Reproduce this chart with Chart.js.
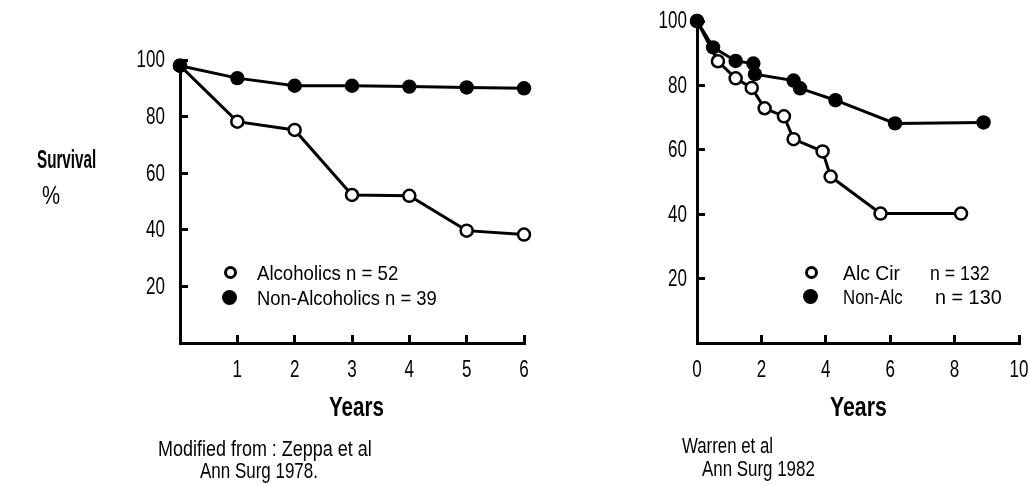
<!DOCTYPE html>
<html>
<head>
<meta charset="utf-8">
<script src="https://cdn.jsdelivr.net/npm/chart.js@4.4.1/dist/chart.umd.min.js"></script>
<style>
    html, body { margin: 0; padding: 0; background: #fff; }
    body { width: 1028px; height: 485px; position: relative; overflow: hidden;
        font-family: 'Liberation Sans', Arial, sans-serif; color: #000; }
    .box { position: absolute; top: 0; }
    .txt { position: absolute; line-height: 1; white-space: nowrap; transform-origin: 0 0; }
    .dot { position: absolute; box-sizing: border-box; border-radius: 50%; }
</style>
</head>
<body>
<div class="box" style="left:0;width:560px;height:485px"><canvas id="left" width="560" height="485"></canvas></div>
<div class="box" style="left:560px;width:468px;height:485px"><canvas id="right" width="468" height="485"></canvas></div>

<script>
// Zeppa et al 1978 - survival % by year
var leftYears = [0, 1, 2, 3, 4, 5, 6];
var leftAlcoholics = [98, 78.2, 75.3, 52.3, 52, 39.7, 38.3];
var leftNonAlcoholics = [98, 93.6, 90.9, 90.9, 90.6, 90.3, 90];
var leftNames = ['Alcoholics', 'Non-Alcoholics'];
var leftCounts = ['n = 52', 'n = 39'];

// Warren et al 1982
var rightAlcYears = [0, 0.65, 1.2, 1.7, 2.1, 2.7, 3.0, 3.9, 4.15, 5.7, 8.2];
var rightAlcValues = [100, 87.5, 82.2, 79.2, 72.9, 70.4, 63.3, 59.5, 51.7, 40.2, 40.2];
var rightNonAlcYears = [0, 0.5, 1.2, 1.75, 1.8, 3.0, 3.2, 4.3, 6.15, 8.9];
var rightNonAlcValues = [100, 91.8, 87.6, 86.8, 83.5, 81.5, 79.1, 75.4, 68.2, 68.5];
var rightNames = ['Alc Cir', 'Non-Alc'];
var rightCounts = ['n = 132', 'n = 130'];

var yTicks = [20, 40, 60, 80, 100];
var leftXTicks = [1, 2, 3, 4, 5, 6];
var rightXTicks = [0, 2, 4, 6, 8, 10];

var fontFamily = "'Liberation Sans', Arial, sans-serif";
Chart.defaults.font.family = fontFamily;
Chart.defaults.color = '#000';

function toPoints(xs, ys) {
    return xs.map(function(x, i) { return { x: x, y: ys[i] }; });
}

function openSeries(label, data) {
    return {
        label: label, data: data, order: 2, clip: false,
        borderColor: '#000', borderWidth: 3,
        pointRadius: 6, pointBorderWidth: 2.5,
        pointBackgroundColor: '#fff', pointBorderColor: '#000'
    };
}

function filledSeries(label, data) {
    return {
        label: label, data: data, order: 1, clip: false,
        borderColor: '#000', borderWidth: 3,
        pointRadius: 7.2, pointBorderWidth: 0,
        pointBackgroundColor: '#000', pointBorderColor: '#000'
    };
}

// narrow tick labels, like the condensed type of the original
var condensedTicks = {
    id: 'condensedTicks',
    afterDraw: function(chart) {
        var ctx = chart.ctx;
        ['x', 'y'].forEach(function(id) {
            var scale = chart.scales[id];
            var shown = scale.options.shownTicks;
            scale.ticks.forEach(function(t) {
                if (shown.indexOf(t.value) < 0) { return; }
                var px = scale.getPixelForValue(t.value);
                ctx.save();
                ctx.fillStyle = '#000';
                ctx.font = '23px ' + fontFamily;
                ctx.textBaseline = 'middle';
                if (scale.isHorizontal()) {
                    ctx.textAlign = 'center';
                    ctx.translate(px, scale.top + 28);
                } else {
                    ctx.textAlign = 'right';
                    ctx.translate(scale.right - scale.options.labelGap, px + 1);
                }
                ctx.scale(0.74, 1);
                ctx.fillText(String(t.value), 0, 0);
                ctx.restore();
            });
        });
    }
};

function axis(min, max, shown, axisSize, labelGap) {
    return {
        type: 'linear', min: min, max: max,
        shownTicks: shown, labelGap: labelGap,
        afterBuildTicks: function(scale) {
            scale.ticks = [min].concat(shown).filter(function(v, i, a) { return a.indexOf(v) === i; })
                .map(function(v) { return { value: v }; });
        },
        afterFit: function(scale) {
            if (scale.isHorizontal()) { scale.height = axisSize; } else { scale.width = axisSize; }
            scale.paddingLeft = 0; scale.paddingRight = 0;
            scale.paddingTop = 0; scale.paddingBottom = 0;
        },
        border: { display: true, color: '#000', width: 3 },
        grid: { drawOnChartArea: false, drawTicks: true, tickLength: -8, color: '#000', lineWidth: 3 },
        ticks: { display: false }
    };
}

function makeChart(id, datasets, xMin, xMax, xShown, yAxisWidth, yLabelGap, xAxisHeight, padding) {
    return new Chart(document.getElementById(id), {
        type: 'line',
        data: { datasets: datasets },
        plugins: [condensedTicks],
        options: {
            responsive: false, animation: false, devicePixelRatio: 1,
            layout: { padding: padding },
            plugins: { legend: { display: false }, tooltip: { enabled: false } },
            scales: {
                x: axis(xMin, xMax, xShown, xAxisHeight, 0),
                y: axis(0, 100, yTicks, yAxisWidth, yLabelGap)
            }
        }
    });
}

makeChart('left', [
    openSeries(leftNames[0], toPoints(leftYears, leftAlcoholics)),
    filledSeries(leftNames[1], toPoints(leftYears, leftNonAlcoholics))
], 0, 6, leftXTicks, 180, 15, 142, { top: 60, right: 36, left: 0, bottom: 0 });

makeChart('right', [
    openSeries(rightNames[0], toPoints(rightAlcYears, rightAlcValues)),
    filledSeries(rightNames[1], toPoints(rightNonAlcYears, rightNonAlcValues))
], 0, 10, rightXTicks, 137, 10, 142, { top: 21, right: 9, left: 0, bottom: 0 });

// text placed by cap-centre, squeezed to the width it has in the original
function place(text, left, centerY, width, size, bold) {
    var d = document.createElement('div');
    d.className = 'txt';
    d.textContent = text;
    d.style.fontSize = size + 'px';
    if (bold) { d.style.fontWeight = 'bold'; }
    document.body.appendChild(d);
    d.style.left = left + 'px';
    d.style.top = (centerY - 0.49 * size) + 'px';
    d.style.transform = 'scaleX(' + (width / d.offsetWidth) + ')';
}

function dot(cx, cy, open) {
    var d = document.createElement('span');
    d.className = 'dot';
    if (open) {
        d.style.cssText = 'left:' + (cx - 6.5) + 'px;top:' + (cy - 6.5) + 'px;width:13px;height:13px;border:3px solid #000;background:#fff';
    } else {
        d.style.cssText = 'left:' + (cx - 7.5) + 'px;top:' + (cy - 7.5) + 'px;width:15px;height:15px;background:#000';
    }
    document.body.appendChild(d);
}

place('Survival', 37, 159, 59, 25, true);
place('%', 42, 195, 18, 26, false);
place('Years', 329, 407, 55, 28, true);
place('Years', 830, 407, 57, 28, true);
place('Modified from : Zeppa et al', 158, 449, 214, 22, false);
place('Ann Surg 1978.', 200, 471, 118, 22, false);
place('Warren et al', 682, 446, 91, 22, false);
place('Ann Surg 1982', 702, 469, 113, 22, false);

// legends
dot(230, 272, true);
dot(229.5, 297, false);
place(leftNames[0] + ' ' + leftCounts[0], 257, 272, 141, 21, false);
place(leftNames[1] + ' ' + leftCounts[1], 257, 297, 180, 21, false);

dot(811, 272, true);
dot(810, 296, false);
place(rightNames[0], 843, 272, 57, 21, false);
place(rightCounts[0], 930, 272, 60, 21, false);
place(rightNames[1], 843, 296, 60, 21, false);
place(rightCounts[1], 935, 296, 67, 21, false);
</script>
</body>
</html>
